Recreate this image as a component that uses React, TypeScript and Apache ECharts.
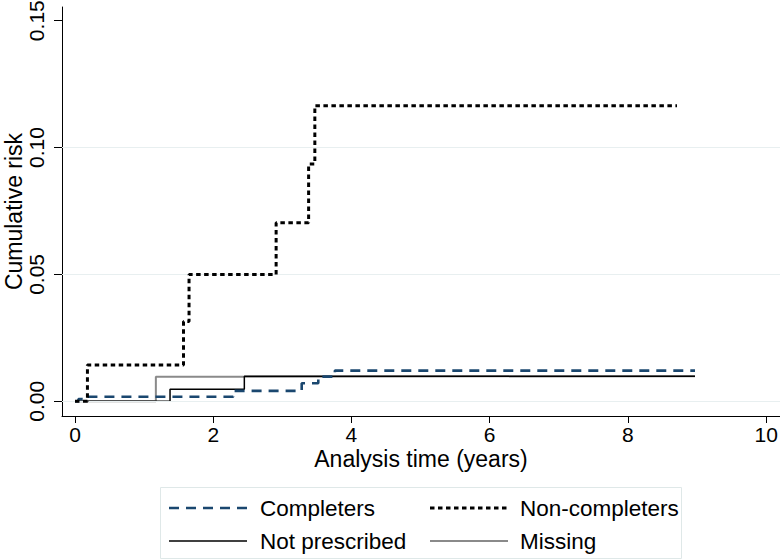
import React, { useEffect, useRef } from "react";
import * as echarts from "echarts";

const xTicks = [0, 2, 4, 6, 8, 10];
const yTicks = [0, 0.05, 0.1, 0.15];
const gridValues = [0, 0.05, 0.1];

const completersTime = [0, 0.05, 0.17, 2.29, 3.28, 3.52, 3.76, 8.97];
const completersRisk = [0, 0.0009, 0.0018, 0.0041, 0.0071, 0.0097, 0.0121, 0.0121];

const nonCompletersTime = [0, 0.18, 1.57, 1.65, 2.91, 3.38, 3.47, 8.71];
const nonCompletersRisk = [0, 0.0143, 0.0314, 0.05, 0.0704, 0.0935, 0.1165, 0.1165];

const notPrescribedTime = [0, 1.375, 2.45, 8.97];
const notPrescribedRisk = [0, 0.0047, 0.0099, 0.0099];

const missingTime = [0, 1.17, 2.45, 8.97];
const missingRisk = [0, 0.0097, 0.0099, 0.0099];

const legendNames = ["Completers", "Non-completers", "Not prescribed", "Missing"];

const FONT = "Liberation Sans, Arial, Helvetica, sans-serif";

const STYLES: Record<string, any> = {
  Completers: { color: "#1a476f", width: 2.6, type: [10, 7], cap: "butt" },
  "Non-completers": { color: "#000000", width: 3, type: [4.5, 3.5], cap: "butt" },
  "Not prescribed": { color: "#000000", width: 1.5, type: "solid" },
  Missing: { color: "#8a8a8a", width: 2, type: "solid" },
};

const pairs = (t: number[], v: number[]) => t.map((x, i) => [x, v[i]]);

export default function App() {
  const ref = useRef<HTMLDivElement>(null);
  useEffect(() => {
    if (!ref.current) return;
    const chart = echarts.init(ref.current, undefined, { renderer: "svg" });
    const stepSeries = (name: string, data: number[][], z: number) => ({
      name,
      type: "line",
      step: "end",
      data,
      symbol: "none",
      showSymbol: false,
      z,
      lineStyle: STYLES[name],
      itemStyle: { color: STYLES[name].color },
    });

    // legend drawn as graphic (2 x 2 layout like the reference)
    const legendGraphics: any[] = [
      {
        type: "rect",
        shape: { x: 160.5, y: 487.5, width: 521, height: 71 },
        style: { fill: "none", stroke: "#dfe8e8", lineWidth: 1 },
        silent: true,
      },
    ];
    legendNames.forEach((name, i) => {
      const col = i % 2;
      const row = Math.floor(i / 2);
      const x0 = col === 0 ? 169 : 430;
      const tx = col === 0 ? 260 : 520;
      const y = row === 0 ? 508 : 541;
      const st = STYLES[name];
      legendGraphics.push({
        type: "line",
        shape: { x1: x0, y1: y, x2: x0 + 78, y2: y },
        style: {
          stroke: st.color,
          lineWidth: st.width,
          lineDash: Array.isArray(st.type) ? st.type : null,
          lineCap: "butt",
        },
        silent: true,
      });
      legendGraphics.push({
        type: "text",
        x: tx,
        y,
        style: {
          text: name,
          fontSize: 22.5,
          fontFamily: FONT,
          fill: "#000",
          textAlign: "left",
          textVerticalAlign: "middle",
          verticalAlign: "middle",
        },
        silent: true,
      });
    });

    chart.setOption({
      animation: false,
      backgroundColor: "#ffffff",
      textStyle: { fontFamily: FONT },
      grid: { left: 62, right: 0, top: 7, height: 409, containLabel: false, outerBoundsMode: "none" },
      xAxis: {
        type: "value",
        min: -0.188,
        max: 10.2,
        name: "Analysis time (years)",
        nameLocation: "middle",
        nameGap: 31,
        nameMoveOverlap: false,
        nameTextStyle: { fontSize: 23, color: "#000", fontFamily: FONT },
        axisLine: { show: true, onZero: false, lineStyle: { color: "#000", width: 1 } },
        axisTick: { show: true, length: 7, customValues: xTicks, lineStyle: { color: "#000" } },
        axisLabel: {
          customValues: xTicks,
          fontSize: 21,
          color: "#000",
          margin: 8,
          fontFamily: FONT,
          formatter: (v: number) => String(v),
        },
        splitLine: { show: false },
      },
      yAxis: {
        type: "value",
        min: -0.0058,
        max: 0.1554,
        name: "Cumulative risk",
        nameLocation: "middle",
        nameGap: 37,
        nameMoveOverlap: false,
        nameRotate: 90,
        nameTextStyle: { fontSize: 23, color: "#000", fontFamily: FONT },
        axisLine: { show: true, onZero: false, lineStyle: { color: "#000", width: 1 } },
        axisTick: { show: true, length: 8, customValues: yTicks, lineStyle: { color: "#000" } },
        axisLabel: {
          customValues: yTicks,
          rotate: 90,
          fontSize: 21,
          color: "#000",
          margin: 15,
          fontFamily: FONT,
          formatter: (v: number) => v.toFixed(2),
        },
        splitLine: { show: false },
      },
      graphic: legendGraphics,
      series: [
        {
          name: "_grid",
          type: "line",
          data: [],
          symbol: "none",
          z: 0,
          silent: true,
          markLine: {
            silent: true,
            symbol: ["none", "none"],
            label: { show: false },
            lineStyle: { color: "#e8eff0", width: 1, type: "solid" },
            data: gridValues.map((v) => ({ yAxis: v })),
          },
        },
        stepSeries("Missing", pairs(missingTime, missingRisk), 2),
        stepSeries("Not prescribed", pairs(notPrescribedTime, notPrescribedRisk), 3),
        stepSeries("Completers", pairs(completersTime, completersRisk), 4),
        stepSeries("Non-completers", pairs(nonCompletersTime, nonCompletersRisk), 5),
      ],
    });
    return () => chart.dispose();
  }, []);
  return (
    <div
      ref={ref}
      style={{ position: "absolute", left: 0, top: 0, width: 780, height: 560, background: "#fff" }}
    />
  );
}
